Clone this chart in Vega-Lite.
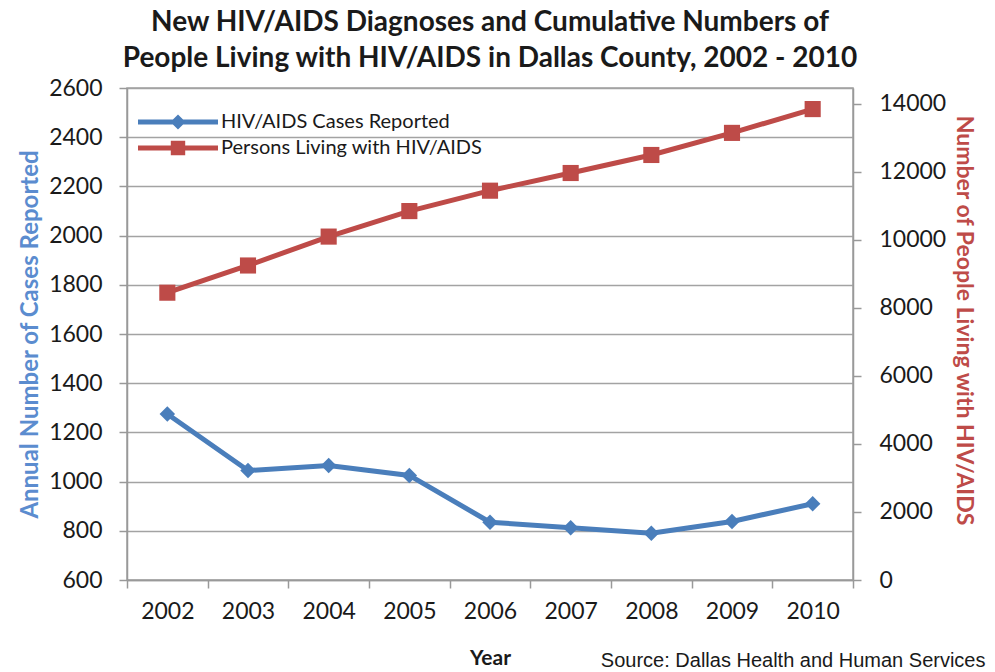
{
  "$schema": "https://vega.github.io/schema/vega-lite/v6.json",
  "width": 726,
  "height": 492,
  "autosize": "none",
  "padding": {"left": 127, "top": 88, "right": 142, "bottom": 92},
  "background": "white",
  "config": {
    "font": "Lato",
    "view": {"fill": "#eef0f3", "stroke": "#a0a0a0", "strokeWidth": 1.5},
    "legend": {
      "title": null,
      "orient": "none",
      "legendX": 11,
      "padding": 0,
      "symbolSize": 6400,
      "symbolStrokeWidth": 0,
      "symbolOpacity": 1,
      "labelFont": "Lato",
      "labelFontSize": 20,
      "labelColor": "#1a1a1a",
      "labelLimit": 500,
      "labelOffset": 3
    }
  },
  "title": {
    "text": ["New HIV/AIDS Diagnoses and Cumulative Numbers of", "People Living with HIV/AIDS in Dallas County, 2002 - 2010"],
    "font": "Lato",
    "fontSize": 28,
    "fontWeight": "bold",
    "color": "#1a1a1a",
    "lineHeight": 36,
    "offset": 4,
    "anchor": "middle",
    "frame": "group"
  },
  "data": {
    "values": [
      {"year": "2002", "cases": 1275, "persons": 8450},
      {"year": "2003", "cases": 1045, "persons": 9250},
      {"year": "2004", "cases": 1065, "persons": 10100},
      {"year": "2005", "cases": 1025, "persons": 10850},
      {"year": "2006", "cases": 835, "persons": 11450},
      {"year": "2007", "cases": 812, "persons": 11970},
      {"year": "2008", "cases": 790, "persons": 12500},
      {"year": "2009", "cases": 838, "persons": 13150},
      {"year": "2010", "cases": 910, "persons": 13850}
    ]
  },
  "layer": [
    {
      "encoding": {
        "x": {
          "field": "year",
          "type": "ordinal",
          "scale": {"type": "band", "paddingInner": 0, "paddingOuter": 0},
          "axis": {
            "title": "Year",
            "titleFont": "Lato",
            "titleFontSize": 21,
            "titleFontWeight": "bold",
            "titleColor": "#1a1a1a",
            "titlePadding": 24,
            "labelAngle": 0,
            "labelFont": "Lato",
            "labelFontSize": 23,
            "labelColor": "#1a1a1a",
            "labelPadding": 12,
            "tickBand": "extent",
            "tickSize": 8,
            "tickColor": "#999999",
            "tickWidth": 1.5,
            "domainColor": "#999999",
            "domainWidth": 1.5,
            "grid": false
          }
        },
        "y": {
          "field": "cases",
          "type": "quantitative",
          "scale": {"domain": [600, 2600], "nice": false, "zero": false},
          "axis": {
            "orient": "left",
            "title": "Annual Number of Cases Reported",
            "titleFont": "Lato",
            "titleFontSize": 24,
            "titleFontWeight": "bold",
            "titleColor": "#5b8ccf",
            "titlePadding": 6,
            "values": [600, 800, 1000, 1200, 1400, 1600, 1800, 2000, 2200, 2400, 2600],
            "format": "d",
            "labelFont": "Lato",
            "labelFontSize": 23,
            "labelColor": "#1a1a1a",
            "labelPadding": 17,
            "tickSize": 8,
            "tickColor": "#999999",
            "tickWidth": 1.5,
            "domainColor": "#999999",
            "domainWidth": 1.5,
            "grid": true,
            "gridColor": "#a3a3a3",
            "gridWidth": 1.5
          }
        }
      },
      "layer": [
        {"mark": {"type": "line", "color": "#4a7ebb", "strokeWidth": 5}},
        {"mark": {"type": "point", "shape": "diamond", "filled": true, "size": 240, "opacity": 1, "color": "#4a7ebb"}}
      ]
    },
    {
      "encoding": {
        "x": {
          "field": "year",
          "type": "ordinal",
          "axis": {
            "orient": "bottom",
            "title": "Source: Dallas Health and Human Services",
            "titleFont": "Liberation Sans Narrow, Liberation Sans",
            "titleFontSize": 20,
            "titleFontWeight": "normal",
            "titleColor": "#1a1a1a",
            "titleX": 858,
            "titleY": 80,
            "titleAlign": "right",
            "titleBaseline": "middle",
            "titleAnchor": null,
            "labels": false,
            "ticks": false,
            "domain": false,
            "grid": false
          }
        },
        "y": {
          "field": "persons",
          "type": "quantitative",
          "scale": {"domain": [0, 14470], "nice": false},
          "axis": {
            "orient": "right",
            "title": "Number of People Living with HIV/AIDS",
            "titleFont": "Lato",
            "titleFontSize": 23,
            "titleFontWeight": "bold",
            "titleColor": "#be4b48",
            "titlePadding": 6,
            "titleY": 232,
            "values": [0, 2000, 4000, 6000, 8000, 10000, 12000, 14000],
            "format": "d",
            "labelFont": "Lato",
            "labelFontSize": 23,
            "labelColor": "#1a1a1a",
            "labelPadding": 18,
            "tickSize": 8,
            "tickColor": "#999999",
            "tickWidth": 1.5,
            "domainColor": "#999999",
            "domainWidth": 1.5,
            "grid": false
          }
        }
      },
      "layer": [
        {"mark": {"type": "line", "color": "#be4b48", "strokeWidth": 5}},
        {"mark": {"type": "point", "shape": "square", "filled": true, "size": 260, "opacity": 1, "color": "#be4b48"}}
      ]
    },
    {
      "transform": [{"filter": "false"}],
      "mark": {"type": "point", "filled": true, "opacity": 1},
      "encoding": {
        "color": {
          "datum": "HIV/AIDS Cases Reported",
          "type": "nominal",
          "scale": {"domain": ["HIV/AIDS Cases Reported"], "range": ["#4a7ebb"]},
          "legend": {"legendY": -6}
        },
        "shape": {
          "datum": "HIV/AIDS Cases Reported",
          "type": "nominal",
          "scale": {"domain": ["HIV/AIDS Cases Reported"], "range": ["M-1,-0.06L1,-0.06L1,0.06L-1,0.06Z M0,-0.19L0.19,0L0,0.19L-0.19,0Z"]},
          "legend": {"legendY": -6}
        }
      }
    },
    {
      "transform": [{"filter": "false"}],
      "mark": {"type": "point", "filled": true, "opacity": 1},
      "encoding": {
        "color": {
          "datum": "Persons Living with HIV/AIDS",
          "type": "nominal",
          "scale": {"domain": ["Persons Living with HIV/AIDS"], "range": ["#be4b48"]},
          "legend": {"legendY": 20}
        },
        "shape": {
          "datum": "Persons Living with HIV/AIDS",
          "type": "nominal",
          "scale": {"domain": ["Persons Living with HIV/AIDS"], "range": ["M-1,-0.06L1,-0.06L1,0.06L-1,0.06Z M-0.18,-0.18L0.18,-0.18L0.18,0.18L-0.18,0.18Z"]},
          "legend": {"legendY": 20}
        }
      }
    }
  ],
  "resolve": {
    "scale": {"y": "independent", "color": "independent", "shape": "independent"},
    "axis": {"x": "independent"}
  }
}
